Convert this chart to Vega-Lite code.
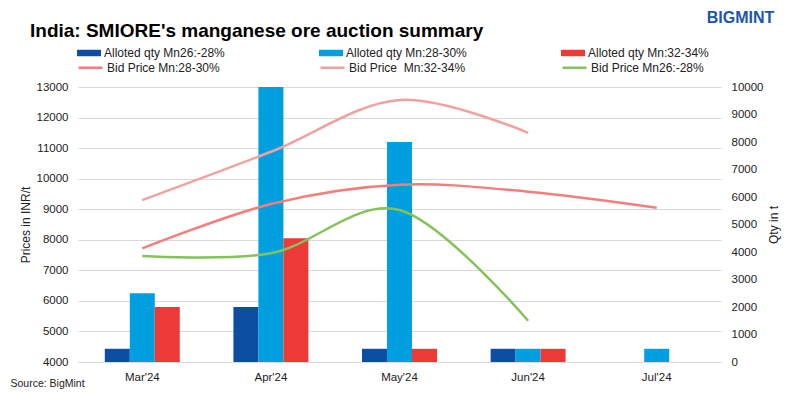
{
  "$schema": "https://vega.github.io/schema/vega-lite/v6.json",
  "width": 643,
  "height": 275,
  "autosize": {"type": "none"},
  "padding": {"left": 78, "top": 87, "right": 79, "bottom": 37},
  "background": "white",
  "title": {
    "text": "India: SMIORE's manganese ore auction summary",
    "anchor": "start",
    "frame": "group",
    "font": "Liberation Sans",
    "fontSize": 19,
    "fontWeight": "bold",
    "color": "#000000",
    "dx": -48,
    "offset": -32
  },
  "config": {
    "view": {"stroke": null},
    "axis": {
      "labelFont": "Liberation Sans",
      "labelFontSize": 11.5,
      "labelColor": "#222222",
      "titleFont": "Liberation Sans",
      "titleFontWeight": "normal",
      "titleFontSize": 12,
      "titleColor": "#222222",
      "ticks": false
    },
    "legend": {
      "labelFont": "Liberation Sans",
      "labelFontSize": 12,
      "labelColor": "#222222",
      "padding": 0,
      "rowPadding": 2
    }
  },
  "datasets": {
    "bars": [
      {"month": "Mar'24", "series": "Alloted qty Mn26:-28%", "qty": 480},
      {"month": "Mar'24", "series": "Alloted qty Mn:28-30%", "qty": 2500},
      {"month": "Mar'24", "series": "Alloted qty Mn:32-34%", "qty": 2000},
      {"month": "Apr'24", "series": "Alloted qty Mn26:-28%", "qty": 2000},
      {"month": "Apr'24", "series": "Alloted qty Mn:28-30%", "qty": 10000},
      {"month": "Apr'24", "series": "Alloted qty Mn:32-34%", "qty": 4500},
      {"month": "May'24", "series": "Alloted qty Mn26:-28%", "qty": 480},
      {"month": "May'24", "series": "Alloted qty Mn:28-30%", "qty": 8000},
      {"month": "May'24", "series": "Alloted qty Mn:32-34%", "qty": 480},
      {"month": "Jun'24", "series": "Alloted qty Mn26:-28%", "qty": 480},
      {"month": "Jun'24", "series": "Alloted qty Mn:28-30%", "qty": 480},
      {"month": "Jun'24", "series": "Alloted qty Mn:32-34%", "qty": 480},
      {"month": "Jul'24", "series": "Alloted qty Mn:28-30%", "qty": 480}
    ],
    "lines": [
      {"month": "Mar'24", "series": "Bid Price Mn:28-30%", "price": 7720},
      {"month": "Apr'24", "series": "Bid Price Mn:28-30%", "price": 9170},
      {"month": "May'24", "series": "Bid Price Mn:28-30%", "price": 9800},
      {"month": "Jun'24", "series": "Bid Price Mn:28-30%", "price": 9575},
      {"month": "Jul'24", "series": "Bid Price Mn:28-30%", "price": 9050},
      {"month": "Mar'24", "series": "Bid Price\u00a0 Mn:32-34%", "price": 9300},
      {"month": "Apr'24", "series": "Bid Price\u00a0 Mn:32-34%", "price": 10880},
      {"month": "May'24", "series": "Bid Price\u00a0 Mn:32-34%", "price": 12575},
      {"month": "Jun'24", "series": "Bid Price\u00a0 Mn:32-34%", "price": 11500},
      {"month": "Mar'24", "series": "Bid Price Mn26:-28%", "price": 7470},
      {"month": "Apr'24", "series": "Bid Price Mn26:-28%", "price": 7560},
      {"month": "May'24", "series": "Bid Price Mn26:-28%", "price": 8975},
      {"month": "Jun'24", "series": "Bid Price Mn26:-28%", "price": 5350}
    ]
  },
  "layer": [
    {
      "data": {"name": "bars"},
      "mark": {"type": "bar"},
      "encoding": {
        "x": {
          "field": "month",
          "type": "nominal",
          "sort": ["Mar'24", "Apr'24", "May'24", "Jun'24", "Jul'24"],
          "scale": {"domain": ["Mar'24", "Apr'24", "May'24", "Jun'24", "Jul'24"], "paddingInner": 0.417, "paddingOuter": 0.2085},
          "axis": {
            "orient": "bottom",
            "labelAngle": 0,
            "labelPadding": 9,
            "domain": true,
            "domainColor": "#d9d9d9",
            "domainWidth": 1,
            "grid": false,
            "title": "Source: BigMint",
            "titleFontSize": 10.5,
            "titleAlign": "left",
            "titleBaseline": "middle",
            "titleX": -68,
            "titleY": 21
          }
        },
        "xOffset": {
          "field": "series",
          "type": "nominal",
          "sort": ["Alloted qty Mn26:-28%", "Alloted qty Mn:28-30%", "Alloted qty Mn:32-34%"],
          "scale": {"domain": ["Alloted qty Mn26:-28%", "Alloted qty Mn:28-30%", "Alloted qty Mn:32-34%"], "paddingInner": 0, "paddingOuter": 0}
        },
        "y": {
          "field": "qty",
          "type": "quantitative",
          "scale": {"domain": [0, 10000], "nice": false},
          "axis": {
            "orient": "right",
            "values": [0, 1000, 2000, 3000, 4000, 5000, 6000, 7000, 8000, 9000, 10000],
            "format": "d",
            "grid": false,
            "domain": false,
            "labelPadding": 10,
            "title": "Qty in t",
            "titleAngle": 270,
            "titlePadding": 18
          }
        },
        "color": {
          "field": "series",
          "type": "nominal",
          "sort": ["Alloted qty Mn26:-28%", "Alloted qty Mn:28-30%", "Alloted qty Mn:32-34%"],
          "scale": {"domain": ["Alloted qty Mn26:-28%", "Alloted qty Mn:28-30%", "Alloted qty Mn:32-34%"], "range": ["#0B4EA2", "#00A0E0", "#EE3A36"]},
          "legend": {
            "orient": "none",
            "legendX": -1,
            "legendY": -46,
            "direction": "horizontal",
            "columns": 3,
            "gridAlign": "all",
            "columnPadding": 94,
            "title": null,
            "symbolType": "M-1,-0.27H1V0.27H-1Z",
            "symbolSize": 576,
            "symbolStrokeWidth": 0,
            "symbolOpacity": 1,
            "labelOffset": 3
          }
        }
      }
    },
    {
      "data": {"name": "lines"},
      "mark": {"type": "line", "interpolate": "cardinal", "strokeWidth": 2.5},
      "encoding": {
        "x": {
          "field": "month",
          "type": "nominal",
          "sort": ["Mar'24", "Apr'24", "May'24", "Jun'24", "Jul'24"],
          "axis": {
            "orient": "top",
            "labels": false,
            "domain": false,
            "grid": false,
            "title": "BIGMINT",
            "titleFont": "Liberation Sans",
            "titleFontSize": 16,
            "titleFontWeight": 900,
            "titleColor": "#1A55B0",
            "titleAlign": "center",
            "titleBaseline": "middle",
            "titleX": 662,
            "titleY": -70
          }
        },
        "y": {
          "field": "price",
          "type": "quantitative",
          "scale": {"domain": [4000, 13000], "nice": false, "zero": false},
          "axis": {
            "orient": "left",
            "values": [4000, 5000, 6000, 7000, 8000, 9000, 10000, 11000, 12000, 13000],
            "format": "d",
            "grid": true,
            "gridColor": "#d9d9d9",
            "gridWidth": 1,
            "domain": false,
            "labelPadding": 10,
            "title": "Prices in INR/t",
            "titlePadding": 4
          }
        },
        "stroke": {
          "field": "series",
          "type": "nominal",
          "sort": ["Bid Price Mn:28-30%", "Bid Price\u00a0 Mn:32-34%", "Bid Price Mn26:-28%"],
          "scale": {"domain": ["Bid Price Mn:28-30%", "Bid Price\u00a0 Mn:32-34%", "Bid Price Mn26:-28%"], "range": ["#F47E7B", "#F2A19D", "#84C25A"]},
          "legend": {
            "orient": "none",
            "legendX": -1,
            "legendY": -33,
            "direction": "horizontal",
            "columns": 3,
            "gridAlign": "all",
            "columnPadding": 91,
            "title": null,
            "symbolType": "stroke",
            "symbolSize": 576,
            "symbolStrokeWidth": 2.5,
            "labelOffset": 3
          }
        }
      }
    }
  ],
  "resolve": {"scale": {"y": "independent"}, "axis": {"x": "independent", "y": "independent"}}
}
